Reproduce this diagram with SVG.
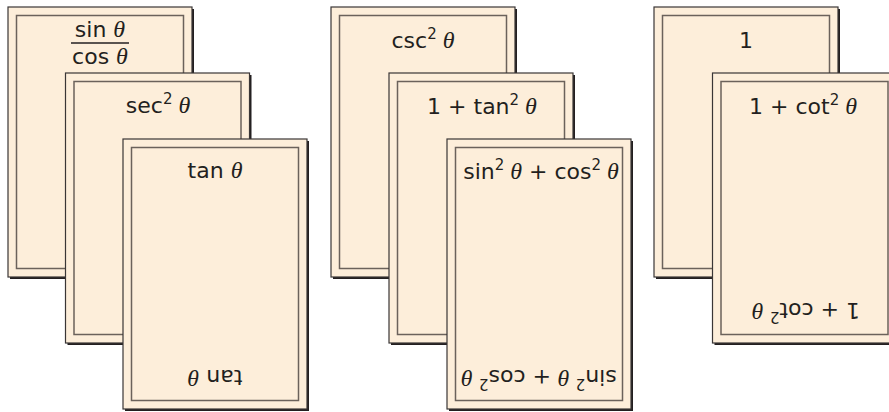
<svg xmlns="http://www.w3.org/2000/svg" width="889" height="412" viewBox="0 0 889 412">
<defs>
<style>
.sh{fill:#231f20}
.card{fill:#fdeeda;stroke:#3a3636;stroke-width:1.2}
.inner{fill:none;stroke:#6b625b;stroke-width:1.5}
.t{font-family:"DejaVu Sans","Liberation Sans",sans-serif;font-size:22px;fill:#231f20;text-anchor:middle}
.sup{font-size:15px}
.th{font-family:"Liberation Serif",serif;font-style:italic;font-size:24px}
.frac{stroke:#231f20;stroke-width:1.6}
</style>
<g id="cardshape">
<rect class="sh" x="2" y="2" width="184" height="270"/>
<rect class="card" x="0" y="0" width="184" height="270"/>
<rect class="inner" x="8.5" y="8.5" width="167" height="253"/>
</g>
</defs>
<rect width="889" height="412" fill="#ffffff"/>

<g id="card-sin-over-cos">
<use href="#cardshape" x="8" y="7"/>
<text class="t" x="100" y="37">sin <tspan class="th">θ</tspan></text>
<line class="frac" x1="71" y1="43" x2="129" y2="43"/>
<text class="t" x="100" y="64">cos <tspan class="th">θ</tspan></text>
</g>
<g id="card-sec2">
<use href="#cardshape" x="65.5" y="73"/>
<text class="t" x="158" y="113">sec<tspan class="sup" dy="-9">2</tspan><tspan class="th" dy="9"> θ</tspan></text>
</g>
<g id="card-tan">
<use href="#cardshape" x="123" y="139"/>
<text class="t" x="215" y="178">tan <tspan class="th">θ</tspan></text>
<text class="t" x="215" y="178" transform="rotate(180 215 274)">tan <tspan class="th">θ</tspan></text>
</g>

<g id="card-csc2">
<use href="#cardshape" x="331" y="7"/>
<text class="t" x="423" y="47.5">csc<tspan class="sup" dy="-9">2</tspan><tspan class="th" dy="9"> θ</tspan></text>
</g>
<g id="card-1-plus-tan2">
<use href="#cardshape" x="389" y="73"/>
<text class="t" x="482" y="113.5">1 + tan<tspan class="sup" dy="-9">2</tspan><tspan class="th" dy="9"> θ</tspan></text>
</g>
<g id="card-sin2-plus-cos2">
<use href="#cardshape" x="447" y="139"/>
<text class="t" x="541" y="178.5">sin<tspan class="sup" dy="-9">2</tspan><tspan class="th" dy="9"> θ</tspan> + cos<tspan class="sup" dy="-9">2</tspan><tspan class="th" dy="9"> θ</tspan></text>
<text class="t" x="541" y="178.5" transform="rotate(180 540 274)">sin<tspan class="sup" dy="-9">2</tspan><tspan class="th" dy="9"> θ</tspan> + cos<tspan class="sup" dy="-9">2</tspan><tspan class="th" dy="9"> θ</tspan></text>
</g>

<g id="card-1">
<use href="#cardshape" x="654" y="7"/>
<text class="t" x="746" y="47.5">1</text>
</g>
<g id="card-1-plus-cot2">
<use href="#cardshape" x="712.5" y="73"/>
<text class="t" x="803" y="113.5">1 + cot<tspan class="sup" dy="-9">2</tspan><tspan class="th" dy="9"> θ</tspan></text>
<text class="t" x="803" y="113.5" transform="rotate(180 804.5 208)">1 + cot<tspan class="sup" dy="-9">2</tspan><tspan class="th" dy="9"> θ</tspan></text>
</g>

<g id="connectors"></g>
</svg>
